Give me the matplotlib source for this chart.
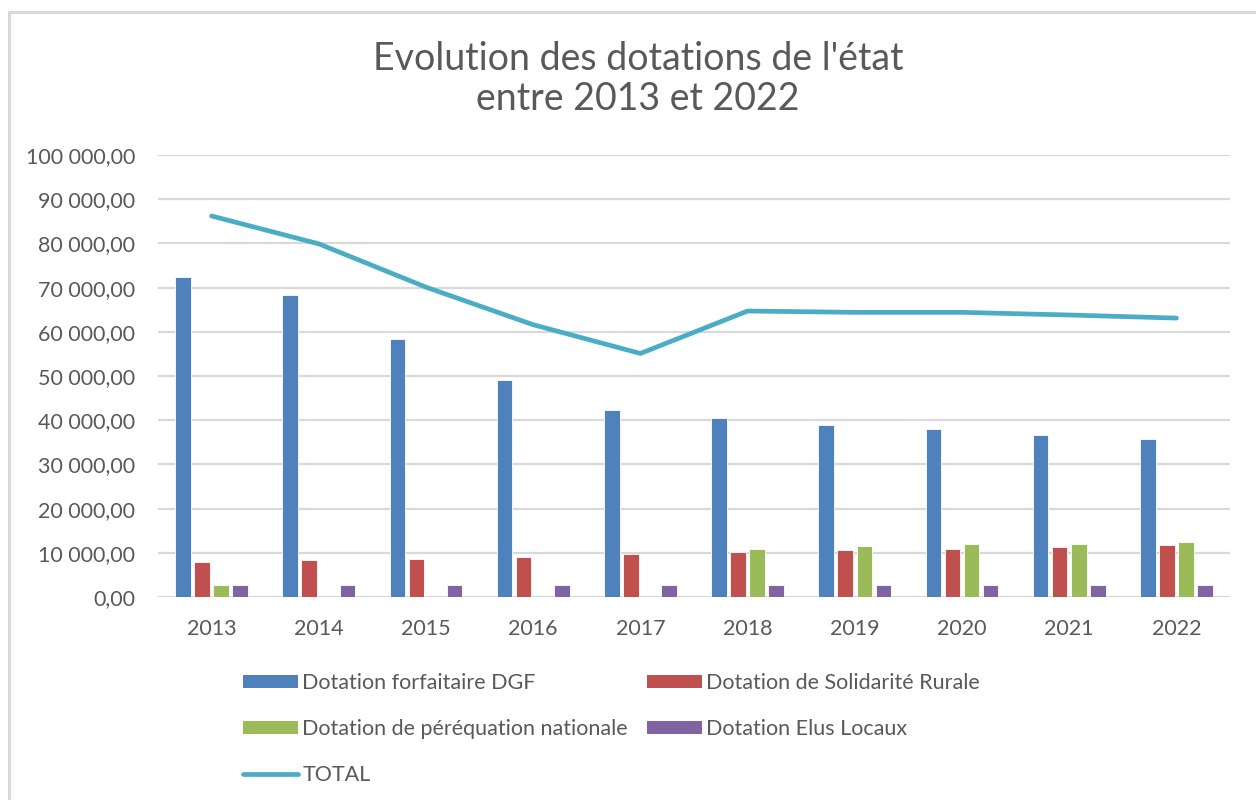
import numpy as np
import matplotlib.pyplot as plt
from matplotlib.lines import Line2D
from matplotlib.patches import Patch
from matplotlib.ticker import FuncFormatter

plt.rcParams['font.family'] = ['Lato', 'DejaVu Sans']

years = ['2013', '2014', '2015', '2016', '2017', '2018', '2019', '2020', '2021', '2022']
dgf = [72400, 68300, 58400, 49100, 42300, 40500, 38900, 38000, 36650, 35750]
dsr = [7900, 8400, 8600, 9100, 9700, 10200, 10600, 10900, 11400, 11800]
pereq = [2700, 0, 0, 0, 0, 10900, 11600, 12100, 12100, 12400]
elus = [2800, 2800, 2800, 2800, 2800, 2800, 2800, 2800, 2800, 2800]
total = [86200, 79900, 70100, 61600, 55100, 64700, 64400, 64400, 63800, 63100]

names = ['Dotation forfaitaire DGF', 'Dotation de Solidarité Rurale',
         'Dotation de péréquation nationale', 'Dotation Elus Locaux']
colors = ['#4f81bd', '#c0504d', '#9bbb59', '#8064a2']
line_color = '#4bacc6'
text_color = '#595959'
grid_color = '#d9d9d9'

fig = plt.figure(figsize=(12.56, 8), dpi=100)
ax = fig.add_axes([158 / 1256, 1 - 597 / 800, 1072 / 1256, 442 / 800])

x = np.arange(len(years))
slot = 0.178
width = 0.145
for i, (vals, c) in enumerate(zip([dgf, dsr, pereq, elus], colors)):
    ax.bar(x + (i - 1.5) * slot, vals, width, color=c, edgecolor='white',
           linewidth=0.6, zorder=2)
ax.plot(x, total, color=line_color, linewidth=3.4, solid_capstyle='round',
        solid_joinstyle='round', zorder=3)

ax.set_xlim(-0.5, len(years) - 0.5)
ax.set_ylim(0, 100000)
ax.set_yticks(np.arange(0, 100001, 10000))
ax.yaxis.set_major_formatter(FuncFormatter(
    lambda v, p: f"{v:,.2f}".replace(',', ' ').replace('.', ',')))
ax.set_xticks(x)
ax.set_xticklabels(years)
ax.tick_params(axis='both', length=0, labelsize=15.5, colors=text_color)
ax.tick_params(axis='y', pad=16.5)
ax.tick_params(axis='x', pad=16)
ax.grid(axis='y', color=grid_color, linewidth=1.6, zorder=0)
for s in ax.spines.values():
    s.set_visible(False)

fig.text(0.508, 1 - 79 / 800, "Evolution des dotations de l'état\nentre 2013 et 2022",
         ha='center', va='center', fontsize=27, color=text_color, linespacing=1.12)

# legend, filled column-wise
handles = [Patch(facecolor=colors[0]), Patch(facecolor=colors[2]),
           Line2D([], [], color=line_color, linewidth=3.4, solid_capstyle='round'),
           Patch(facecolor=colors[1]), Patch(facecolor=colors[3])]
labels = [names[0], names[2], 'TOTAL', names[1], names[3]]
fig.legend(handles, labels, ncol=2, loc='upper left',
           bbox_to_anchor=(243 / 1256, 1 - 673 / 800), frameon=False,
           fontsize=15.5, labelcolor=text_color, handlelength=2.55,
           handleheight=0.55, handletextpad=0.2, columnspacing=0.9,
           labelspacing=1.2, borderpad=0, borderaxespad=0)

# chart frame
fig.add_artist(Line2D([9 / 1256, 9 / 1256], [0, 1 - 12 / 800], color=grid_color,
                      linewidth=2.2, transform=fig.transFigure))
fig.add_artist(Line2D([9 / 1256, 1], [1 - 12 / 800, 1 - 12 / 800], color=grid_color,
                      linewidth=2.2, transform=fig.transFigure))

fig.savefig('out.png', dpi=100)
